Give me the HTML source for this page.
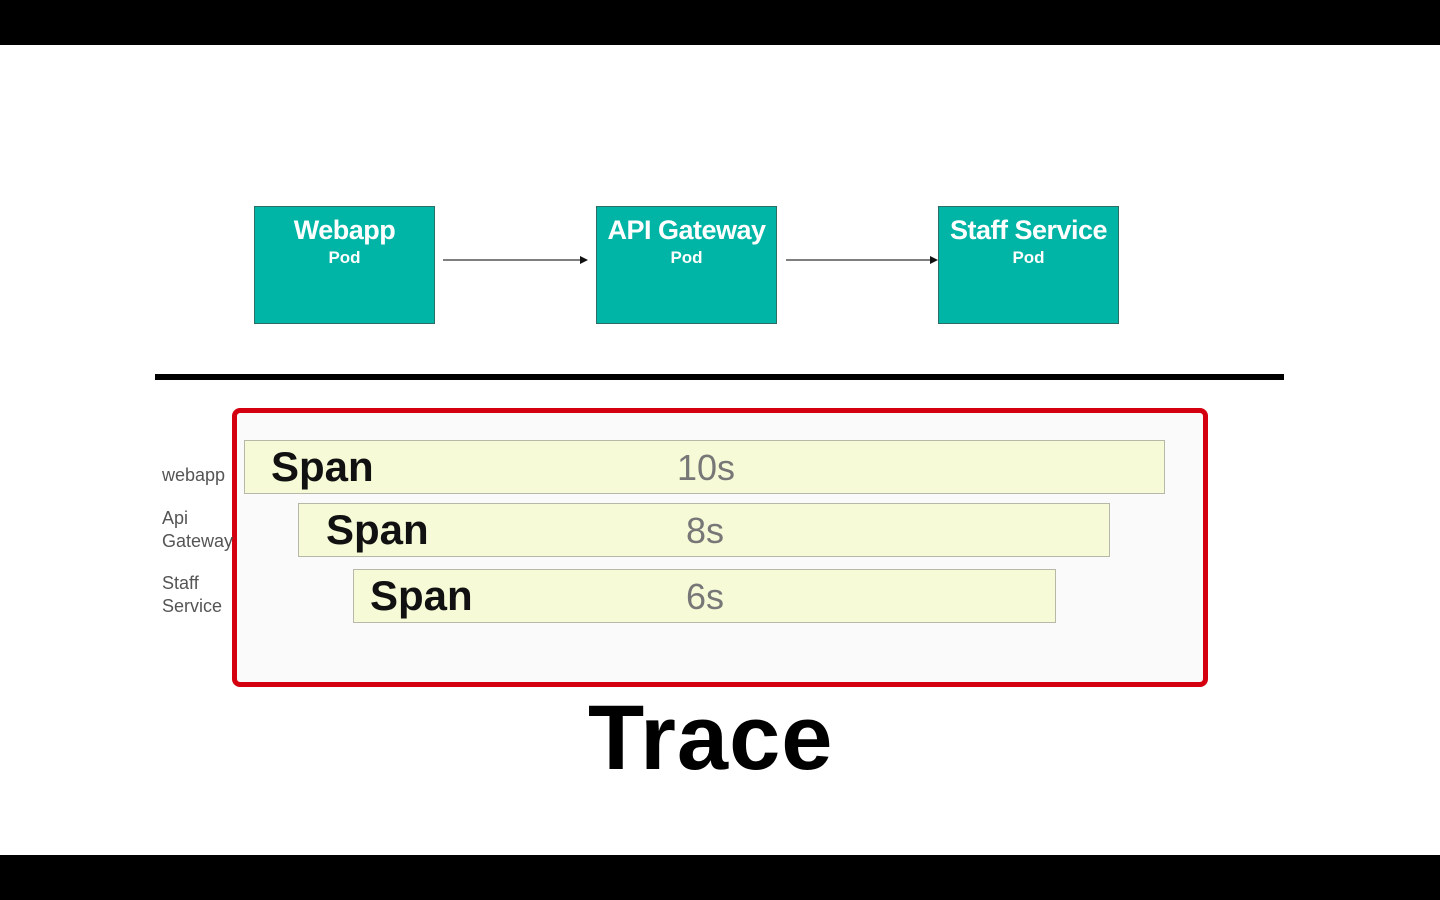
<!DOCTYPE html>
<html><head><meta charset="utf-8"><style>
*{margin:0;padding:0;box-sizing:border-box}
body{width:1440px;height:900px;background:#000;position:relative;overflow:hidden;font-family:"Liberation Sans","DejaVu Sans",sans-serif}
.page{position:absolute;left:0;top:45px;width:1440px;height:810px;background:#fff}
.a{position:absolute}
.pod{position:absolute;top:206px;width:181px;height:118px;background:#00b5a5;border:1px solid #2a6e66;color:#fff;text-align:center;font-weight:bold}
.pod .t{font-size:27px;margin-top:8px;letter-spacing:-0.5px;white-space:nowrap}
.pod .s{font-size:17px;margin-top:2px}
.span{position:absolute;background:#f6fad6;border:1px solid #b8b8a8;height:54px}
.span .n{position:absolute;top:2px;font-size:42px;font-weight:bold;color:#111}
.span .d{position:absolute;top:6px;font-size:36px;color:#777}
.lbl{position:absolute;left:162px;font-size:18px;color:#555;line-height:23px}
</style></head><body>
<div class="page"></div>
<div class="pod" style="left:254px"><div class="t">Webapp</div><div class="s">Pod</div></div>
<div class="pod" style="left:596px"><div class="t">API Gateway</div><div class="s">Pod</div></div>
<div class="pod" style="left:938px"><div class="t">Staff Service</div><div class="s">Pod</div></div>
<svg class="a" style="left:0;top:0" width="1440" height="900">
<line x1="443" y1="260" x2="582" y2="260" stroke="#333" stroke-width="1.3"/>
<polygon points="588,260 580,256 580,264" fill="#111"/>
<line x1="786" y1="260" x2="932" y2="260" stroke="#333" stroke-width="1.3"/>
<polygon points="938,260 930,256 930,264" fill="#111"/>
<rect x="155" y="374" width="1129" height="6" fill="#000"/>
</svg>
<div class="a" style="left:232px;top:408px;width:976px;height:279px;border:5px solid #d4000f;border-radius:8px;background:#fafafa"></div>
<div class="span" style="left:244px;top:440px;width:921px"><div class="n" style="left:26px">Span</div><div class="d" style="left:432px">10s</div></div>
<div class="span" style="left:298px;top:503px;width:812px"><div class="n" style="left:27px">Span</div><div class="d" style="left:387px">8s</div></div>
<div class="span" style="left:353px;top:569px;width:703px"><div class="n" style="left:16px">Span</div><div class="d" style="left:332px">6s</div></div>
<div class="lbl" style="top:464px">webapp</div>
<div class="lbl" style="top:507px">Api<br>Gateway</div>
<div class="lbl" style="top:572px">Staff<br>Service</div>
<div class="a" style="left:588px;top:686px;font-size:92px;font-weight:bold;color:#000;letter-spacing:1px">Trace</div>
</body></html>
